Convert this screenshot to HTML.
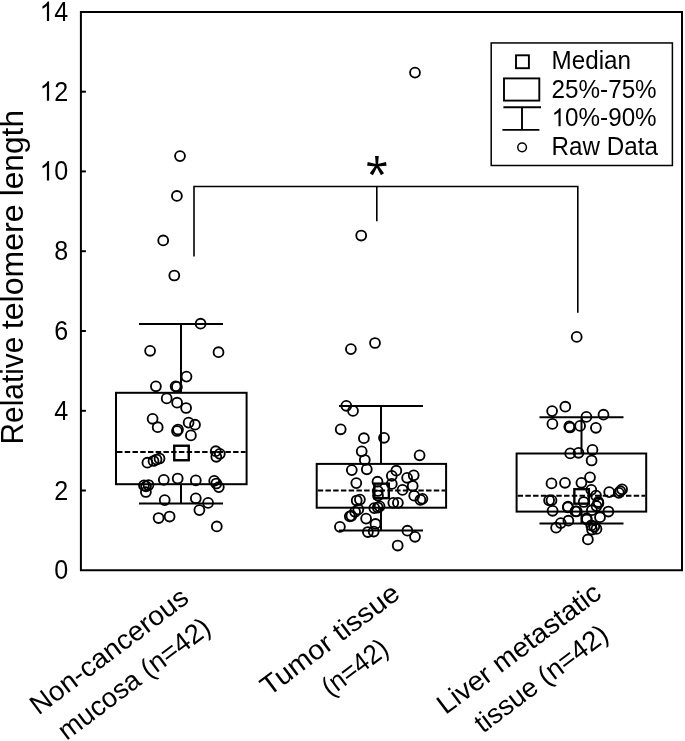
<!DOCTYPE html><html><head><meta charset="utf-8"><style>html,body{margin:0;padding:0;background:#fff;}svg{display:block;will-change:transform;}text{font-family:"Liberation Sans",sans-serif;fill:#000;}</style></head><body>
<svg width="685" height="741" viewBox="0 0 685 741">
<rect width="685" height="741" fill="#fff"/>
<g stroke="#000" stroke-width="2" fill="none">
<path d="M80.9 570.3 V11.9 H682 V570.3 Z"/>
<line x1="81" y1="490.5" x2="85.9" y2="490.5"/>
<line x1="81" y1="410.8" x2="85.9" y2="410.8"/>
<line x1="81" y1="331.0" x2="85.9" y2="331.0"/>
<line x1="81" y1="251.2" x2="85.9" y2="251.2"/>
<line x1="81" y1="171.4" x2="85.9" y2="171.4"/>
<line x1="81" y1="91.7" x2="85.9" y2="91.7"/>
</g>
<g font-size="27">
<text transform="translate(54.14,579.30) scale(0.93,1)">0</text>
<text transform="translate(54.14,499.53) scale(0.93,1)">2</text>
<text transform="translate(54.14,419.76) scale(0.93,1)">4</text>
<text transform="translate(54.14,339.99) scale(0.93,1)">6</text>
<text transform="translate(54.14,260.21) scale(0.93,1)">8</text>
<path transform="translate(39.75,180.44) scale(0.01226,-0.01318)" d="M763 0H583V1147Q518 1085 412.5 1023T223 930V1104Q374 1175 487 1276T647 1472H763V0Z"/>
<text transform="translate(54.14,180.44) scale(0.93,1)">0</text>
<path transform="translate(39.75,100.67) scale(0.01226,-0.01318)" d="M763 0H583V1147Q518 1085 412.5 1023T223 930V1104Q374 1175 487 1276T647 1472H763V0Z"/>
<text transform="translate(54.14,100.67) scale(0.93,1)">2</text>
<path transform="translate(39.75,20.90) scale(0.01226,-0.01318)" d="M763 0H583V1147Q518 1085 412.5 1023T223 930V1104Q374 1175 487 1276T647 1472H763V0Z"/>
<text transform="translate(54.14,20.90) scale(0.93,1)">4</text>
</g>
<g transform="translate(22.5,0) rotate(-90)" font-size="31">
<text x="-444.49" y="0" textLength="107.82" lengthAdjust="spacingAndGlyphs">Relative</text>
<text x="-329.18" y="0" textLength="124.65" lengthAdjust="spacingAndGlyphs">telomere</text>
<text x="-196.36" y="0" textLength="86.41" lengthAdjust="spacingAndGlyphs">length</text>
</g>
<g stroke="#000" stroke-width="2" fill="none">
<rect x="116" y="392.8" width="130.6" height="91.4"/>
<line x1="181" y1="392.8" x2="181" y2="323.9"/>
<line x1="181" y1="484.2" x2="181" y2="503.4"/>
<line x1="139" y1="323.9" x2="223" y2="323.9"/>
<line x1="139" y1="503.4" x2="223" y2="503.4"/>
<line x1="117" y1="451.9" x2="245.6" y2="451.9" stroke-dasharray="5.45 2.29"/>
</g>
<g stroke="#000" stroke-width="1.85" fill="none">
<circle cx="180.0" cy="156.1" r="4.95"/>
<circle cx="176.9" cy="195.9" r="4.95"/>
<circle cx="163.2" cy="240.4" r="4.95"/>
<circle cx="174.3" cy="275.5" r="4.95"/>
<circle cx="200.6" cy="323.7" r="4.95"/>
<circle cx="150.1" cy="350.8" r="4.95"/>
<circle cx="218.5" cy="352.2" r="4.95"/>
<circle cx="186.5" cy="376.6" r="4.95"/>
<circle cx="155.9" cy="386.3" r="4.95"/>
<circle cx="175.6" cy="386.3" r="4.95"/>
<circle cx="176.9" cy="386.9" r="4.95"/>
<circle cx="166.7" cy="398.4" r="4.95"/>
<circle cx="177.1" cy="402.7" r="4.95"/>
<circle cx="186.1" cy="408.0" r="4.95"/>
<circle cx="152.6" cy="418.8" r="4.95"/>
<circle cx="157.7" cy="427.2" r="4.95"/>
<circle cx="188.6" cy="422.6" r="4.95"/>
<circle cx="195.0" cy="424.7" r="4.95"/>
<circle cx="177.0" cy="431.0" r="4.95"/>
<circle cx="178.0" cy="429.5" r="4.95"/>
<circle cx="190.9" cy="435.4" r="4.95"/>
<circle cx="215.8" cy="451.2" r="4.95"/>
<circle cx="219.8" cy="453.8" r="4.95"/>
<circle cx="216.3" cy="456.8" r="4.95"/>
<circle cx="147.4" cy="462.7" r="4.95"/>
<circle cx="153.5" cy="461.0" r="4.95"/>
<circle cx="156.5" cy="459.5" r="4.95"/>
<circle cx="159.5" cy="458.5" r="4.95"/>
<circle cx="163.8" cy="479.8" r="4.95"/>
<circle cx="177.7" cy="478.5" r="4.95"/>
<circle cx="195.8" cy="480.4" r="4.95"/>
<circle cx="214.2" cy="480.9" r="4.95"/>
<circle cx="216.3" cy="483.5" r="4.95"/>
<circle cx="218.8" cy="487.1" r="4.95"/>
<circle cx="144.0" cy="485.4" r="4.95"/>
<circle cx="148.5" cy="485.0" r="4.95"/>
<circle cx="145.9" cy="492.0" r="4.95"/>
<circle cx="146.0" cy="486.3" r="4.95"/>
<circle cx="164.7" cy="500.1" r="4.95"/>
<circle cx="195.8" cy="498.3" r="4.95"/>
<circle cx="208.1" cy="502.9" r="4.95"/>
<circle cx="199.4" cy="510.1" r="4.95"/>
<circle cx="158.6" cy="518.0" r="4.95"/>
<circle cx="169.6" cy="516.5" r="4.95"/>
<circle cx="216.8" cy="526.4" r="4.95"/>
</g>
<rect x="174.25" y="445.75" width="14.5" height="14.5" stroke="#000" stroke-width="2.4" fill="none"/>
<g stroke="#000" stroke-width="2" fill="none">
<rect x="316.7" y="463.9" width="129.4" height="43.8"/>
<line x1="381" y1="463.9" x2="381" y2="406.0"/>
<line x1="381" y1="507.7" x2="381" y2="530.6"/>
<line x1="339" y1="406.0" x2="423" y2="406.0"/>
<line x1="339" y1="530.6" x2="423" y2="530.6"/>
<line x1="317.7" y1="490.4" x2="445.1" y2="490.4" stroke-dasharray="5.45 2.29"/>
</g>
<g stroke="#000" stroke-width="1.85" fill="none">
<circle cx="415.0" cy="72.6" r="4.95"/>
<circle cx="361.2" cy="235.5" r="4.95"/>
<circle cx="375.0" cy="343.0" r="4.95"/>
<circle cx="350.9" cy="349.1" r="4.95"/>
<circle cx="346.3" cy="405.8" r="4.95"/>
<circle cx="353.0" cy="410.9" r="4.95"/>
<circle cx="340.7" cy="429.3" r="4.95"/>
<circle cx="363.9" cy="438.2" r="4.95"/>
<circle cx="384.0" cy="437.8" r="4.95"/>
<circle cx="361.7" cy="451.3" r="4.95"/>
<circle cx="364.8" cy="460.0" r="4.95"/>
<circle cx="351.8" cy="470.1" r="4.95"/>
<circle cx="366.8" cy="469.3" r="4.95"/>
<circle cx="356.3" cy="483.1" r="4.95"/>
<circle cx="377.5" cy="481.7" r="4.95"/>
<circle cx="377.8" cy="491.0" r="4.95"/>
<circle cx="378.0" cy="495.5" r="4.95"/>
<circle cx="419.6" cy="455.3" r="4.95"/>
<circle cx="396.3" cy="470.7" r="4.95"/>
<circle cx="391.8" cy="475.8" r="4.95"/>
<circle cx="391.8" cy="483.9" r="4.95"/>
<circle cx="407.1" cy="477.8" r="4.95"/>
<circle cx="413.7" cy="475.3" r="4.95"/>
<circle cx="412.7" cy="486.0" r="4.95"/>
<circle cx="402.5" cy="489.9" r="4.95"/>
<circle cx="414.2" cy="495.7" r="4.95"/>
<circle cx="420.4" cy="499.8" r="4.95"/>
<circle cx="422.4" cy="498.8" r="4.95"/>
<circle cx="393.3" cy="502.8" r="4.95"/>
<circle cx="397.9" cy="502.8" r="4.95"/>
<circle cx="356.7" cy="500.5" r="4.95"/>
<circle cx="359.9" cy="499.6" r="4.95"/>
<circle cx="358.3" cy="509.4" r="4.95"/>
<circle cx="355.1" cy="511.8" r="4.95"/>
<circle cx="351.4" cy="515.8" r="4.95"/>
<circle cx="349.8" cy="516.3" r="4.95"/>
<circle cx="339.9" cy="526.8" r="4.95"/>
<circle cx="366.1" cy="518.6" r="4.95"/>
<circle cx="375.5" cy="523.9" r="4.95"/>
<circle cx="367.9" cy="532.0" r="4.95"/>
<circle cx="373.7" cy="531.5" r="4.95"/>
<circle cx="374.3" cy="508.1" r="4.95"/>
<circle cx="377.8" cy="507.5" r="4.95"/>
<circle cx="379.6" cy="506.4" r="4.95"/>
<circle cx="407.4" cy="530.7" r="4.95"/>
<circle cx="415.0" cy="536.8" r="4.95"/>
<circle cx="397.7" cy="545.5" r="4.95"/>
</g>
<rect x="374.35" y="483.65" width="14.5" height="14.5" stroke="#000" stroke-width="2.4" fill="none"/>
<g stroke="#000" stroke-width="2" fill="none">
<rect x="516.6" y="453.5" width="129.6" height="58.1"/>
<line x1="581.5" y1="453.5" x2="581.5" y2="417.3"/>
<line x1="581.5" y1="511.6" x2="581.5" y2="523.4"/>
<line x1="539.5" y1="417.3" x2="623.5" y2="417.3"/>
<line x1="539.5" y1="523.4" x2="623.5" y2="523.4"/>
<line x1="517.6" y1="495.8" x2="645.2" y2="495.8" stroke-dasharray="5.45 2.29"/>
</g>
<g stroke="#000" stroke-width="1.85" fill="none">
<circle cx="576.7" cy="336.9" r="4.95"/>
<circle cx="552.1" cy="411.1" r="4.95"/>
<circle cx="565.3" cy="406.7" r="4.95"/>
<circle cx="552.4" cy="423.9" r="4.95"/>
<circle cx="569.3" cy="426.4" r="4.95"/>
<circle cx="570.0" cy="427.5" r="4.95"/>
<circle cx="580.1" cy="425.9" r="4.95"/>
<circle cx="586.4" cy="416.9" r="4.95"/>
<circle cx="595.9" cy="427.8" r="4.95"/>
<circle cx="603.5" cy="414.7" r="4.95"/>
<circle cx="570.2" cy="453.4" r="4.95"/>
<circle cx="578.5" cy="452.8" r="4.95"/>
<circle cx="592.5" cy="449.9" r="4.95"/>
<circle cx="591.6" cy="460.5" r="4.95"/>
<circle cx="551.5" cy="483.4" r="4.95"/>
<circle cx="565.0" cy="482.8" r="4.95"/>
<circle cx="581.4" cy="482.8" r="4.95"/>
<circle cx="590.0" cy="477.3" r="4.95"/>
<circle cx="549.1" cy="500.3" r="4.95"/>
<circle cx="551.5" cy="500.3" r="4.95"/>
<circle cx="552.6" cy="510.8" r="4.95"/>
<circle cx="567.8" cy="507.3" r="4.95"/>
<circle cx="575.4" cy="511.4" r="4.95"/>
<circle cx="568.4" cy="520.7" r="4.95"/>
<circle cx="560.8" cy="523.1" r="4.95"/>
<circle cx="556.1" cy="527.7" r="4.95"/>
<circle cx="609.2" cy="492.1" r="4.95"/>
<circle cx="618.8" cy="492.8" r="4.95"/>
<circle cx="622.1" cy="489.3" r="4.95"/>
<circle cx="620.3" cy="491.2" r="4.95"/>
<circle cx="591.3" cy="489.8" r="4.95"/>
<circle cx="596.0" cy="495.6" r="4.95"/>
<circle cx="598.3" cy="502.0" r="4.95"/>
<circle cx="583.7" cy="502.0" r="4.95"/>
<circle cx="596.5" cy="506.1" r="4.95"/>
<circle cx="608.4" cy="511.5" r="4.95"/>
<circle cx="600.0" cy="517.2" r="4.95"/>
<circle cx="591.9" cy="510.2" r="4.95"/>
<circle cx="576.7" cy="511.4" r="4.95"/>
<circle cx="586.6" cy="518.4" r="4.95"/>
<circle cx="591.3" cy="525.4" r="4.95"/>
<circle cx="596.5" cy="528.9" r="4.95"/>
<circle cx="587.9" cy="539.4" r="4.95"/>
<circle cx="592.0" cy="529.5" r="4.95"/>
<circle cx="594.3" cy="526.5" r="4.95"/>
<circle cx="586.7" cy="519.5" r="4.95"/>
<circle cx="598.4" cy="503.2" r="4.95"/>
<circle cx="568.0" cy="506.7" r="4.95"/>
</g>
<rect x="574.35" y="489.15" width="14.5" height="14.5" stroke="#000" stroke-width="2.4" fill="none"/>
<path d="M194 256.4 V186.5 H577.8 V312.7 M376.8 186.5 V221.3" stroke="#000" stroke-width="1.6" fill="none"/>
<path d="M377.95 165.40 L378.75 156.10 L375.05 156.10 L375.85 165.40Z M377.06 166.44 L386.57 165.74 L385.99 162.09 L376.74 164.36Z M376.01 165.96 L380.93 175.17 L384.05 173.18 L377.79 164.84Z M376.01 164.84 L369.75 173.18 L372.87 175.17 L377.79 165.96Z M377.06 164.36 L367.71 162.07 L367.13 165.73 L376.74 166.44Z " fill="#000"/>
<circle cx="376.9" cy="165.4" r="2" fill="#000"/>
<rect x="491.2" y="42.95" width="181.2" height="122.55" stroke="#000" stroke-width="1.5" fill="#fff"/>
<g stroke="#000" fill="none" stroke-width="1.9">
<rect x="516" y="55.3" width="12.9" height="12.9"/>
<rect x="504" y="78.4" width="35.3" height="22.2"/>
<path d="M503.4 107.3 H541 M522 107.3 V129.9 M502.4 129.9 H539.4"/>
<circle cx="522.1" cy="147.3" r="4.35" stroke-width="1.5"/>
</g>
<g font-size="25" transform="translate(551.6,0) scale(0.97,1)">
<text x="0" y="69.00">Median</text>
<text x="0" y="97.57">25%-75%</text>
<path transform="translate(0,126.14) scale(0.01221,-0.01221)" d="M763 0H583V1147Q518 1085 412.5 1023T223 930V1104Q374 1175 487 1276T647 1472H763V0Z"/>
<text x="13.90" y="126.14">0%-90%</text>
<text x="0" y="154.71">Raw Data</text>
</g>
<g transform="translate(40.3,714.3) rotate(-37.0)" font-size="27.3">
<text x="-2.24" y="0" textLength="190.27" lengthAdjust="spacingAndGlyphs">Non-cancerous</text>
<text x="4.93" y="37.2" textLength="182.79" lengthAdjust="spacingAndGlyphs">mucosa (n=42)</text>
</g>
<g transform="translate(269.5,696.4) rotate(-37.0)" font-size="27.3">
<text x="-0.58" y="0" textLength="165.94" lengthAdjust="spacingAndGlyphs">Tumor tissue</text>
<text x="47.95" y="37.3" textLength="75.18" lengthAdjust="spacingAndGlyphs">(n=42)</text>
</g>
<g transform="translate(447.2,713.9) rotate(-37.0)" font-size="27.3">
<text x="-2.26" y="0" textLength="197.39" lengthAdjust="spacingAndGlyphs">Liver metastatic</text>
<text x="16.59" y="37.5" textLength="159.36" lengthAdjust="spacingAndGlyphs">tissue (n=42)</text>
</g>
</svg></body></html>
